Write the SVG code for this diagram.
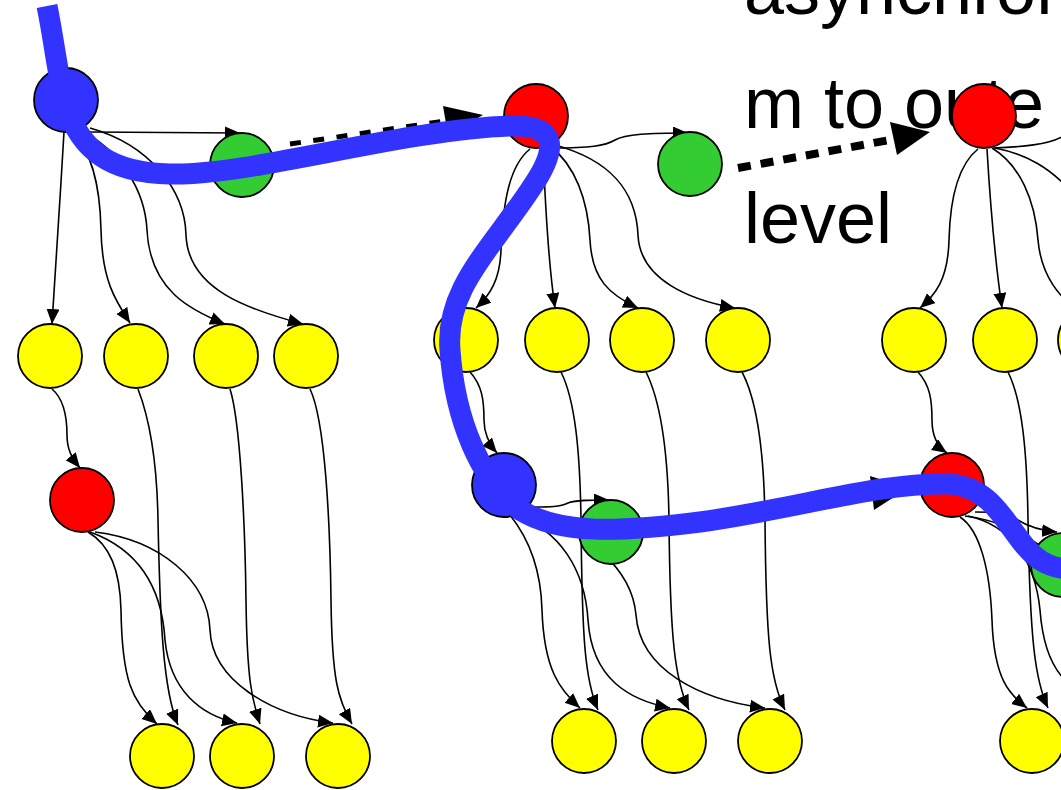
<svg xmlns="http://www.w3.org/2000/svg" width="1061" height="790" viewBox="0 0 1061 790">
<style>
.n{stroke:#000;stroke-width:1.8}
.b{fill:#3333ff}.r{fill:#ff0000}.g{fill:#33cc33}.y{fill:#ffff00}
.e{fill:none;stroke:#000;stroke-width:1.6;marker-end:url(#ah)}
.el{fill:none;stroke:#000;stroke-width:1.6}
.lbl{font-family:"Liberation Sans",Arial,sans-serif;font-size:72px;fill:#000}
</style>
<defs>
<marker id="ah" markerUnits="userSpaceOnUse" markerWidth="16" markerHeight="14" refX="15" refY="6.5" orient="auto">
<path d="M0,0 L15,6.5 L0,13 z" fill="#000"/>
</marker>
</defs>
<rect width="1061" height="790" fill="#fff"/>
<g id="label">
<text class="lbl" x="744" y="14">asynchron</text>
<text class="lbl" x="744" y="128">m to oute</text>
<text class="lbl" x="744" y="243">level</text>
</g>
<g id="edges">
<path class="e" d="M90 132 L240 133"/>
<path class="e" d="M64 132 C60 200 55 280 52 324"/>
<path class="e" d="M72 131 C90 150 100 180 101 230 C102 280 115 300 130 323"/>
<path class="e" d="M80 130 C120 150 145 190 147 230 C150 290 190 310 225 324"/>
<path class="e" d="M90 128 C150 145 185 190 186 235 C188 290 250 310 303 324"/>
<path class="e" d="M52 389 C65 400 67 420 67 435 C67 450 72 458 80 468"/>
<path class="e" d="M138 389 C150 420 157 460 158 520 C160 620 163 690 178 725"/>
<path class="e" d="M230 389 C240 420 245 520 246 600 C247 680 252 700 260 724"/>
<path class="e" d="M310 389 C325 420 330 520 331 600 C332 680 338 700 352 724"/>
<path class="e" d="M88 532 C110 545 120 570 121 610 C122 680 132 702 157 724"/>
<path class="e" d="M90 532 C140 550 162 590 165 640 C170 690 200 715 237 723"/>
<path class="e" d="M95 532 C160 540 208 580 210 630 C212 680 270 715 333 723"/>
<path class="e" d="M553 148 C590 148 605 146 615 140 C625 134 650 133 688 133"/>
<path class="e" d="M530 149 C510 165 503 200 501 250 C500 280 490 295 476 308"/>
<path class="e" d="M543 148 C545 200 548 260 555 308"/>
<path class="e" d="M550 146 C575 165 588 200 590 240 C592 280 610 295 638 308"/>
<path class="e" d="M555 145 C610 160 636 190 638 235 C640 280 690 300 735 308"/>
<path class="e" d="M470 372 C482 385 484 400 484 420 C484 435 490 445 497 453"/>
<path class="e" d="M561 372 C575 400 580 450 581 520 C582 640 585 680 598 710"/>
<path class="e" d="M646 372 C660 400 668 450 669 520 C670 640 675 680 689 710"/>
<path class="e" d="M742 372 C757 400 764 450 765 520 C766 640 770 680 785 710"/>
<path class="e" d="M533 507 C550 507 560 507 568 503 C575 500 590 500 609 500"/>
<path class="e" d="M510 515 C530 540 541 570 542 610 C544 670 560 690 580 708"/>
<path class="e" d="M515 515 C560 530 585 570 588 620 C592 680 630 700 670 708"/>
<path class="e" d="M520 512 C590 530 632 570 636 615 C640 670 700 700 765 708"/>
<path class="el" d="M993 148 C1020 147 1050 145 1065 135"/>
<path class="e" d="M978 149 C958 165 950 200 949 240 C948 280 935 295 920 308"/>
<path class="e" d="M987 149 C990 200 995 260 1002 308"/>
<path class="e" d="M992 148 C1020 165 1035 200 1038 240 C1041 275 1060 300 1080 310"/>
<path class="el" d="M995 148 C1030 155 1050 170 1065 185"/>
<path class="e" d="M918 372 C930 385 932 400 932 420 C932 437 938 447 947 453"/>
<path class="e" d="M1008 372 C1022 400 1027 450 1028 520 C1030 640 1035 680 1048 708"/>
<path class="e" d="M975 512 C995 512 1005 512 1013 517 C1020 522 1035 530 1057 532"/>
<path class="e" d="M960 517 C980 530 990 570 992 620 C994 680 1010 695 1027 708"/>
<path class="el" d="M965 516 C1000 520 1030 535 1065 565"/>
<path class="el" d="M968 516 C1010 525 1035 560 1040 610 C1043 650 1055 670 1065 680"/>
<path fill="none" stroke="#000" stroke-width="5" stroke-dasharray="11 12.5" d="M290 144 L445 121"/>
<polygon points="443,106 483,115 448,135" fill="#000"/>
<path fill="none" stroke="#000" stroke-width="8" stroke-dasharray="13 10" d="M738 168 L895 139"/>
<polygon points="890,122 930,132 897,155" fill="#000"/>
<path fill="none" stroke="#000" stroke-width="6" stroke-dasharray="12 11" d="M645 524 L872 493"/>
<polygon points="870,476 908,488 874,510" fill="#000"/>
</g>
<g id="nodes">
<circle id="blueA" class="n b" cx="66" cy="100" r="32"/>
<circle id="greenA" class="n g" cx="242" cy="165" r="32"/>
<circle id="redB" class="n r" cx="536" cy="116" r="32"/>
<circle id="greenB" class="n g" cx="690" cy="164" r="32"/>
<circle id="redC" class="n r" cx="984" cy="116" r="32"/>
<circle id="yL1" class="n y" cx="50" cy="356" r="32"/>
<circle id="yL2" class="n y" cx="136" cy="356" r="32"/>
<circle id="yL3" class="n y" cx="226" cy="356" r="32"/>
<circle id="yL4" class="n y" cx="306" cy="356" r="32"/>
<circle id="yM1" class="n y" cx="466" cy="340" r="32"/>
<circle id="yM2" class="n y" cx="557" cy="340" r="32"/>
<circle id="yM3" class="n y" cx="642" cy="340" r="32"/>
<circle id="yM4" class="n y" cx="738" cy="340" r="32"/>
<circle id="yR1" class="n y" cx="914" cy="340" r="32"/>
<circle id="yR2" class="n y" cx="1005" cy="340" r="32"/>
<circle id="yR3" class="n y" cx="1090" cy="340" r="32"/>
<circle id="redL" class="n r" cx="82" cy="500" r="32"/>
<circle id="blueB" class="n b" cx="504" cy="485" r="32"/>
<circle id="greenC" class="n g" cx="611" cy="532" r="32"/>
<circle id="redD" class="n r" cx="952" cy="485" r="32"/>
<circle id="greenD" class="n g" cx="1063" cy="565" r="32"/>
<circle id="bL1" class="n y" cx="162" cy="756" r="32"/>
<circle id="bL2" class="n y" cx="242" cy="756" r="32"/>
<circle id="bL3" class="n y" cx="338" cy="756" r="32"/>
<circle id="bM1" class="n y" cx="584" cy="741" r="32"/>
<circle id="bM2" class="n y" cx="674" cy="741" r="32"/>
<circle id="bM3" class="n y" cx="770" cy="741" r="32"/>
<circle id="bR1" class="n y" cx="1032" cy="741" r="32"/>
</g>
<g id="path-highlight">
<path fill="none" stroke="#3333ff" stroke-width="21" stroke-linejoin="round" d="M47 6 C55 45 58 80 66 105 C80 150 110 173 170 174 C250 176 400 130 510 126 C560 124 558 150 530 190 C490 250 445 290 450 350 C455 420 480 480 520 510 C560 535 620 532 700 522 C800 508 880 482 950 484 C1000 488 1010 540 1040 560 C1050 567 1061 569 1075 570"/>
</g>
</svg>
